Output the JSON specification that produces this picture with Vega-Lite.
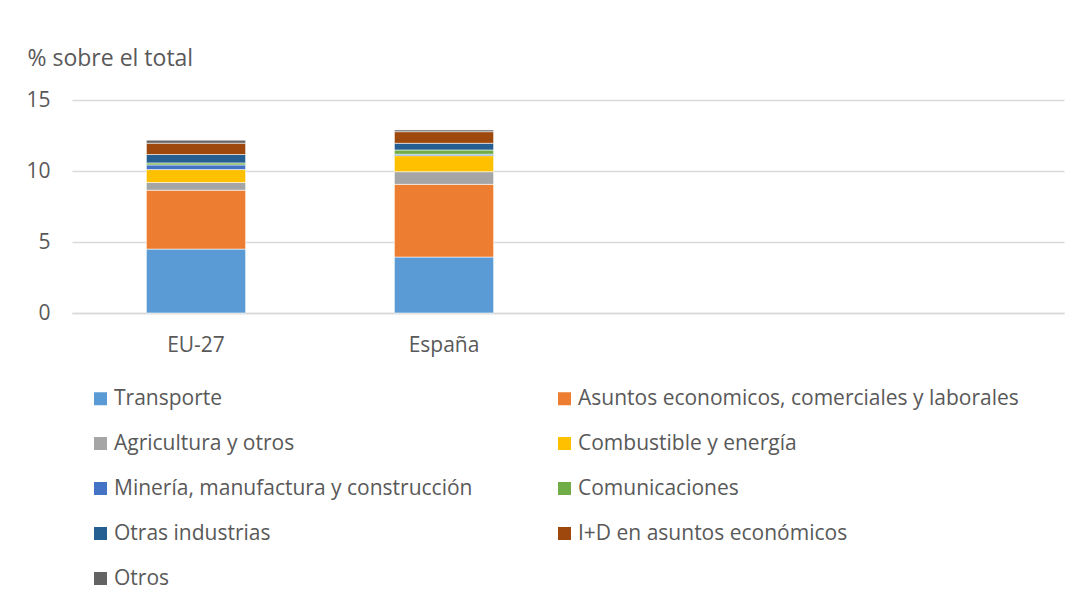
{
  "$schema": "https://vega.github.io/schema/vega-lite/v6.json",
  "width": 992,
  "height": 213,
  "autosize": {"type": "none"},
  "padding": {"left": 72, "top": 100, "right": 17, "bottom": 292},
  "background": "white",
  "config": {
    "font": "Open Sans",
    "view": {"stroke": null},
    "axis": {"labelFont": "Open Sans", "titleFont": "Open Sans", "labelColor": "#595959", "titleColor": "#595959"},
    "legend": {"labelFont": "Open Sans", "labelColor": "#595959"}
  },
  "data": {
    "values": [
      {"region": "EU-27", "categoria": "Transporte", "orden": 1, "valor": 4.5},
      {"region": "EU-27", "categoria": "Asuntos economicos, comerciales y laborales", "orden": 2, "valor": 4.15},
      {"region": "EU-27", "categoria": "Agricultura y otros", "orden": 3, "valor": 0.54},
      {"region": "EU-27", "categoria": "Combustible y energía", "orden": 4, "valor": 0.91},
      {"region": "EU-27", "categoria": "Minería, manufactura y construcción", "orden": 5, "valor": 0.33},
      {"region": "EU-27", "categoria": "Comunicaciones", "orden": 6, "valor": 0.14},
      {"region": "EU-27", "categoria": "Otras industrias", "orden": 7, "valor": 0.59},
      {"region": "EU-27", "categoria": "I+D en asuntos económicos", "orden": 8, "valor": 0.8},
      {"region": "EU-27", "categoria": "Otros", "orden": 9, "valor": 0.21},
      {"region": "España", "categoria": "Transporte", "orden": 1, "valor": 3.94},
      {"region": "España", "categoria": "Asuntos economicos, comerciales y laborales", "orden": 2, "valor": 5.12},
      {"region": "España", "categoria": "Agricultura y otros", "orden": 3, "valor": 0.89},
      {"region": "España", "categoria": "Combustible y energía", "orden": 4, "valor": 1.13},
      {"region": "España", "categoria": "Minería, manufactura y construcción", "orden": 5, "valor": 0.1},
      {"region": "España", "categoria": "Comunicaciones", "orden": 6, "valor": 0.3},
      {"region": "España", "categoria": "Otras industrias", "orden": 7, "valor": 0.47},
      {"region": "España", "categoria": "I+D en asuntos económicos", "orden": 8, "valor": 0.82},
      {"region": "España", "categoria": "Otros", "orden": 9, "valor": 0.12}
    ]
  },
  "mark": {"type": "bar", "stroke": "white", "strokeWidth": 0.8, "strokeOpacity": 0.7},
  "encoding": {
    "x": {
      "field": "region",
      "type": "nominal",
      "scale": {"domain": ["EU-27", "España", " ", "  "], "paddingInner": 0.6, "paddingOuter": 0.3},
      "axis": {
        "title": null,
        "labelAngle": 0,
        "labelFontSize": 21,
        "labelPadding": 21,
        "ticks": false,
        "domainColor": "#d9d9d9",
        "domainWidth": 1.5,
        "grid": false
      }
    },
    "y": {
      "field": "valor",
      "type": "quantitative",
      "stack": "zero",
      "scale": {"domain": [0, 15]},
      "axis": {
        "values": [0, 5, 10, 15],
        "title": "% sobre el total",
        "titleAngle": 0,
        "titleAlign": "left",
        "titleBaseline": "alphabetic",
        "titleX": -45,
        "titleY": -35,
        "titleFontSize": 23,
        "titleFontWeight": "normal",
        "labelFontSize": 21,
        "labelPadding": 22,
        "ticks": false,
        "domain": false,
        "gridColor": "#d9d9d9",
        "gridWidth": 1.5
      }
    },
    "order": {"field": "orden", "type": "quantitative", "sort": "ascending"},
    "color": {
      "field": "categoria",
      "type": "nominal",
      "scale": {
        "domain": ["Transporte", "Agricultura y otros", "Minería, manufactura y construcción", "Otras industrias", "Otros", "Asuntos economicos, comerciales y laborales", "Combustible y energía", "Comunicaciones", "I+D en asuntos económicos"],
        "range": ["#5B9BD5", "#A5A5A5", "#4472C4", "#255E91", "#636363", "#ED7D31", "#FFC000", "#70AD47", "#9E480E"]
      },
      "legend": {
        "title": null,
        "orient": "none",
        "legendX": 18,
        "legendY": 288,
        "columns": 2,
        "columnPadding": 81,
        "rowPadding": 23,
        "symbolType": "square",
        "symbolSize": 169,
        "symbolStrokeWidth": 0,
        "labelFontSize": 21,
        "labelOffset": 3,
        "labelLimit": 600
      }
    }
  }
}
